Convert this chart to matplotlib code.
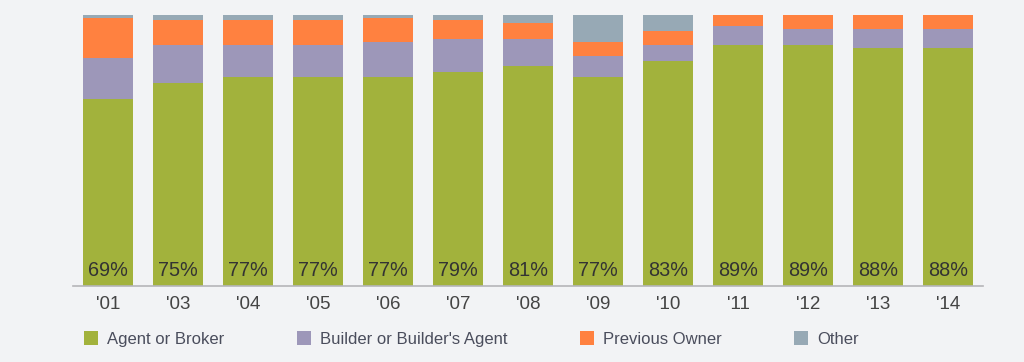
"""Stacked bars: how buyers of new homes found the seller, by year."""
import matplotlib.pyplot as plt
from matplotlib.patches import Patch
import numpy as np

years = ["'01", "'03", "'04", "'05", "'06", "'07", "'08",
         "'09", "'10", "'11", "'12", "'13", "'14"]
agent = [69, 75, 77, 77, 77, 79, 81, 77, 83, 89, 89, 88, 88]
builder = [15, 14, 12, 12, 13, 12, 10, 8, 6, 7, 6, 7, 7]
owner = [15, 9, 9, 9, 9, 7, 6, 5, 5, 4, 5, 5, 5]
other = [1, 2, 2, 2, 1, 2, 3, 10, 6, 0, 0, 0, 0]

series_names = ["Agent or Broker", "Builder or Builder's Agent",
                "Previous Owner", "Other"]
colors = ["#A2B23C", "#9D97B9", "#FF8140", "#97A9B5"]
bg = "#F2F3F5"

plt.rcParams["font.family"] = ["Liberation Sans", "DejaVu Sans"]

fig = plt.figure(figsize=(10.24, 3.62), dpi=100, facecolor=bg)
ax = fig.add_axes([73 / 1024, 76 / 362, 910 / 1024, 271 / 362])
ax.set_facecolor(bg)

x = np.arange(len(years))
bottom = np.zeros(len(years))
for vals, col in zip([agent, builder, owner, other], colors):
    ax.bar(x, vals, width=0.71, bottom=bottom, color=col, linewidth=0)
    bottom += np.array(vals)

for xi, v in zip(x, agent):
    ax.text(xi, 2.3, f"{v}%", ha="center", va="bottom",
            fontsize=14.3, color="#333333")

ax.set_xlim(-0.5, len(years) - 0.5)
ax.set_ylim(0, 100)
ax.set_xticks(x)
ax.set_xticklabels(years, fontsize=13.5, color="#444444")
ax.tick_params(axis="x", length=0, pad=7)
ax.set_yticks([])
for s in ["top", "left", "right"]:
    ax.spines[s].set_visible(False)
ax.spines["bottom"].set_color("#B5B5B8")
ax.spines["bottom"].set_linewidth(1.2)

handles = [Patch(facecolor=c, edgecolor="none") for c in colors]
fig.legend(handles, series_names, loc="center left",
           bbox_to_anchor=(84 / 1024, 1 - 339 / 362), ncol=4,
           frameon=False, fontsize=12, handlelength=0.84,
           handleheight=0.84, handletextpad=0.54, columnspacing=4.35,
           borderpad=0, borderaxespad=0, labelcolor="#4A4D5C")

fig.savefig("out.png", dpi=100, facecolor=bg)
